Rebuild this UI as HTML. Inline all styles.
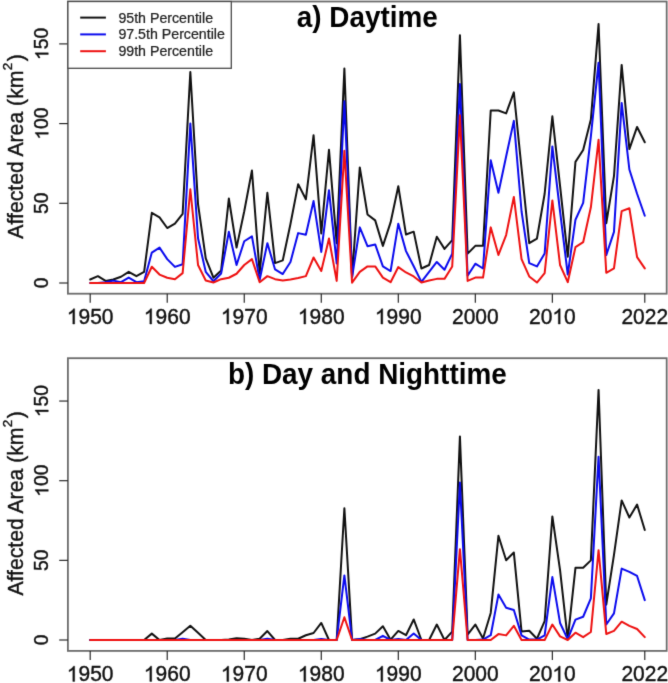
<!DOCTYPE html>
<html><head><meta charset="utf-8"><style>
html,body{margin:0;padding:0;background:#fff;}
svg{display:block;}
text{font-family:"Liberation Sans",sans-serif;fill:#111;stroke:#111;stroke-width:0.4px;}
.g1{fill:#111;stroke:#111;stroke-width:41.0px;}
.yl{font-size:21.2px;}
.sup{font-size:13.5px;}
.ti{font-size:27.9px;font-weight:bold;fill:#000;stroke:none;}
.lg{font-size:14.2px;fill:#222;stroke:#222;stroke-width:0.24px;}
polyline{fill:none;stroke-width:2.0;stroke-linejoin:round;stroke-linecap:round;}
</style></head><body>
<svg width="668" height="683" viewBox="0 0 668 683">
<defs><filter id="bl" x="0" y="0" width="668" height="683" filterUnits="userSpaceOnUse" color-interpolation-filters="sRGB"><feConvolveMatrix order="3" kernelMatrix="0.0113 0.0838 0.0113 0.0838 0.6193 0.0838 0.0113 0.0838 0.0113" edgeMode="none"/></filter></defs>
<rect width="668" height="683" fill="#fff"/>
<g filter="url(#bl)">
<polyline points="90.20,279.49 97.90,276.15 105.61,280.93 113.31,279.49 121.01,276.78 128.71,271.84 136.41,276.15 144.12,271.84 151.82,212.86 159.52,217.33 167.22,228.01 174.93,223.54 182.63,213.82 190.33,71.95 198.03,204.10 205.74,258.29 213.44,277.74 221.14,270.41 228.84,198.52 236.55,247.61 244.25,211.27 251.95,170.46 259.65,273.12 267.36,192.78 275.06,263.07 282.76,260.37 290.46,224.02 298.17,184.17 305.87,199.31 313.57,135.24 321.27,233.43 328.98,149.74 336.68,243.15 344.38,68.61 352.08,276.62 359.79,167.44 367.49,214.46 375.19,220.36 382.89,245.86 390.60,222.43 398.30,186.24 406.00,234.54 413.70,231.67 421.41,268.49 429.11,264.99 436.81,236.77 444.51,248.89 452.22,240.12 459.92,35.13 467.62,253.67 475.32,245.86 483.03,245.86 490.73,110.53 498.43,110.53 506.13,113.40 513.84,92.36 521.54,168.23 529.24,243.15 536.95,238.53 544.65,193.74 552.35,116.27 560.05,185.77 567.75,256.70 575.46,161.86 583.16,150.06 590.86,119.61 598.56,23.97 606.27,223.22 613.97,176.20 621.67,64.94 629.38,149.10 637.08,126.95 644.78,142.25" stroke="#111111"/>
<polyline points="90.20,283.00 97.90,283.00 105.61,282.20 113.31,280.61 121.01,282.20 128.71,277.58 136.41,282.20 144.12,281.25 151.82,252.55 159.52,247.61 167.22,259.09 174.93,266.90 182.63,264.19 190.33,123.60 198.03,238.21 205.74,271.84 213.44,281.25 221.14,273.44 228.84,231.83 236.55,264.99 244.25,241.24 251.95,236.30 259.65,279.97 267.36,243.15 275.06,269.45 282.76,274.07 290.46,261.96 298.17,233.11 305.87,234.70 313.57,201.07 321.27,251.92 328.98,190.23 336.68,263.39 344.38,101.28 352.08,277.26 359.79,227.37 367.49,246.18 375.19,244.43 382.89,266.42 390.60,271.05 398.30,223.70 406.00,251.12 413.70,266.26 421.41,281.88 429.11,271.84 436.81,261.96 444.51,269.77 452.22,253.67 459.92,84.07 467.62,275.83 475.32,263.71 483.03,268.49 490.73,160.26 498.43,192.78 506.13,156.44 513.84,120.89 521.54,211.27 529.24,263.07 536.95,266.42 544.65,253.51 552.35,146.39 560.05,211.27 567.75,274.55 575.46,219.72 583.16,202.82 590.86,136.35 598.56,62.71 606.27,255.10 613.97,231.83 621.67,102.88 629.38,169.51 637.08,193.74 644.78,215.73" stroke="#0a0aee"/>
<polyline points="90.20,283.00 97.90,283.00 105.61,283.00 113.31,283.00 121.01,283.00 128.71,283.00 136.41,283.00 144.12,283.00 151.82,266.74 159.52,274.55 167.22,277.74 174.93,279.33 182.63,273.12 190.33,189.27 198.03,264.99 205.74,280.45 213.44,282.52 221.14,279.17 228.84,277.74 236.55,273.75 244.25,264.99 251.95,259.09 259.65,282.20 267.36,276.15 275.06,279.17 282.76,280.45 290.46,279.49 298.17,278.06 305.87,276.15 313.57,257.50 321.27,271.05 328.98,238.53 336.68,280.93 344.38,150.70 352.08,282.68 359.79,271.84 367.49,266.42 375.19,266.42 382.89,277.58 390.60,282.20 398.30,267.06 406.00,272.48 413.70,276.46 421.41,282.52 429.11,280.45 436.81,278.86 444.51,278.86 452.22,266.42 459.92,115.31 467.62,280.93 475.32,277.58 483.03,277.58 490.73,227.37 498.43,254.95 506.13,235.02 513.84,196.92 521.54,259.09 529.24,276.46 536.95,282.52 544.65,273.12 552.35,200.43 560.05,264.99 567.75,282.20 575.46,247.13 583.16,242.19 590.86,207.28 598.56,139.86 606.27,272.80 613.97,268.34 621.67,211.11 629.38,208.24 637.08,257.18 644.78,268.34" stroke="#ee1111"/>
<rect x="67.9" y="1.5" width="598.8" height="292.2" fill="none" stroke="#6c6c6c" stroke-width="1.8"/>
<line x1="59.2" y1="283.00" x2="67.9" y2="283.00" stroke="#222" stroke-width="1.15"/>
<g transform="translate(48.30 283.00) rotate(-90)"><text class="t" x="-5.37" y="0" style="font-size:19.3px">0</text></g>
<line x1="59.2" y1="203.30" x2="67.9" y2="203.30" stroke="#222" stroke-width="1.15"/>
<g transform="translate(48.30 203.30) rotate(-90)"><text class="t" x="-10.73" y="0" style="font-size:19.3px">50</text></g>
<line x1="59.2" y1="123.60" x2="67.9" y2="123.60" stroke="#222" stroke-width="1.15"/>
<g transform="translate(48.30 123.60) rotate(-90)"><text class="t" x="-16.10" y="0" style="font-size:19.3px"> 00</text><path d="M763 0H583V1147Q518 1085 412 1023Q306 961 222 930V1104Q373 1175 486 1276Q599 1377 646 1472H763Z" transform="translate(-16.10 0) scale(0.009424 -0.008858)" class="g1"/></g>
<line x1="59.2" y1="43.90" x2="67.9" y2="43.90" stroke="#222" stroke-width="1.15"/>
<g transform="translate(48.30 43.90) rotate(-90)"><text class="t" x="-16.10" y="0" style="font-size:19.3px"> 50</text><path d="M763 0H583V1147Q518 1085 412 1023Q306 961 222 930V1104Q373 1175 486 1276Q599 1377 646 1472H763Z" transform="translate(-16.10 0) scale(0.009424 -0.008858)" class="g1"/></g>
<line x1="90.20" y1="293.7" x2="90.20" y2="302.7" stroke="#222" stroke-width="1.15"/>
<g transform="translate(90.20 324.00) scale(1 1.075)"><text class="t" x="-23.36" y="0" style="font-size:21.0px"> 950</text><path d="M763 0H583V1147Q518 1085 412 1023Q306 961 222 930V1104Q373 1175 486 1276Q599 1377 646 1472H763Z" transform="translate(-23.36 0) scale(0.010254 -0.009639)" class="g1"/></g>
<line x1="167.22" y1="293.7" x2="167.22" y2="302.7" stroke="#222" stroke-width="1.15"/>
<g transform="translate(167.22 324.00) scale(1 1.075)"><text class="t" x="-23.36" y="0" style="font-size:21.0px"> 960</text><path d="M763 0H583V1147Q518 1085 412 1023Q306 961 222 930V1104Q373 1175 486 1276Q599 1377 646 1472H763Z" transform="translate(-23.36 0) scale(0.010254 -0.009639)" class="g1"/></g>
<line x1="244.25" y1="293.7" x2="244.25" y2="302.7" stroke="#222" stroke-width="1.15"/>
<g transform="translate(244.25 324.00) scale(1 1.075)"><text class="t" x="-23.36" y="0" style="font-size:21.0px"> 970</text><path d="M763 0H583V1147Q518 1085 412 1023Q306 961 222 930V1104Q373 1175 486 1276Q599 1377 646 1472H763Z" transform="translate(-23.36 0) scale(0.010254 -0.009639)" class="g1"/></g>
<line x1="321.27" y1="293.7" x2="321.27" y2="302.7" stroke="#222" stroke-width="1.15"/>
<g transform="translate(321.27 324.00) scale(1 1.075)"><text class="t" x="-23.36" y="0" style="font-size:21.0px"> 980</text><path d="M763 0H583V1147Q518 1085 412 1023Q306 961 222 930V1104Q373 1175 486 1276Q599 1377 646 1472H763Z" transform="translate(-23.36 0) scale(0.010254 -0.009639)" class="g1"/></g>
<line x1="398.30" y1="293.7" x2="398.30" y2="302.7" stroke="#222" stroke-width="1.15"/>
<g transform="translate(398.30 324.00) scale(1 1.075)"><text class="t" x="-23.36" y="0" style="font-size:21.0px"> 990</text><path d="M763 0H583V1147Q518 1085 412 1023Q306 961 222 930V1104Q373 1175 486 1276Q599 1377 646 1472H763Z" transform="translate(-23.36 0) scale(0.010254 -0.009639)" class="g1"/></g>
<line x1="475.32" y1="293.7" x2="475.32" y2="302.7" stroke="#222" stroke-width="1.15"/>
<g transform="translate(475.32 324.00) scale(1 1.075)"><text class="t" x="-23.36" y="0" style="font-size:21.0px">2000</text></g>
<line x1="552.35" y1="293.7" x2="552.35" y2="302.7" stroke="#222" stroke-width="1.15"/>
<g transform="translate(552.35 324.00) scale(1 1.075)"><text class="t" x="-23.36" y="0" style="font-size:21.0px">20 0</text><path d="M763 0H583V1147Q518 1085 412 1023Q306 961 222 930V1104Q373 1175 486 1276Q599 1377 646 1472H763Z" transform="translate(0.00 0) scale(0.010254 -0.009639)" class="g1"/></g>
<line x1="644.78" y1="293.7" x2="644.78" y2="302.7" stroke="#222" stroke-width="1.15"/>
<g transform="translate(644.78 324.00) scale(1 1.075)"><text class="t" x="-23.36" y="0" style="font-size:21.0px">2022</text></g>
<text class="yl" transform="translate(22.6 146.40) rotate(-90)" text-anchor="middle">Affected Area (km<tspan class="sup" dx="0.3" dy="-11">2</tspan><tspan dx="1.6" dy="11">)</tspan></text>
<text class="ti" transform="translate(367.3 26.9) scale(1 1.08)" text-anchor="middle">a) Daytime</text>
<rect x="67.9" y="1.5" width="163.4" height="66.8" fill="#fff" stroke="#4a4a4a" stroke-width="1.3"/>
<line x1="80.2" y1="17.6" x2="105.9" y2="17.6" stroke="#111111" stroke-width="2.0"/>
<line x1="80.2" y1="34.4" x2="105.9" y2="34.4" stroke="#0a0aee" stroke-width="2.0"/>
<line x1="80.2" y1="51.2" x2="105.9" y2="51.2" stroke="#ee1111" stroke-width="2.0"/>
<text class="lg" x="118.4" y="22.6">95th Percentile</text>
<text class="lg" x="118.4" y="39.4">97.5th Percentile</text>
<text class="lg" x="118.4" y="56.2">99th Percentile</text>
<polyline points="90.20,640.00 97.90,640.00 105.61,640.00 113.31,640.00 121.01,640.00 128.71,640.00 136.41,640.00 144.12,640.00 151.82,633.63 159.52,640.00 167.22,638.41 174.93,638.41 182.63,632.19 190.33,625.82 198.03,632.83 205.74,640.00 213.44,640.00 221.14,640.00 228.84,639.52 236.55,638.25 244.25,638.73 251.95,640.00 259.65,638.73 267.36,631.08 275.06,640.00 282.76,640.00 290.46,638.73 298.17,638.73 305.87,635.22 313.57,632.99 321.27,622.95 328.98,640.00 336.68,640.00 344.38,508.26 352.08,640.00 359.79,639.20 367.49,636.65 375.19,633.63 382.89,626.30 390.60,639.68 398.30,630.92 406.00,635.22 413.70,619.45 421.41,640.00 429.11,640.00 436.81,624.55 444.51,640.00 452.22,631.56 459.92,436.41 467.62,634.58 475.32,624.55 483.03,638.57 490.73,612.92 498.43,535.82 506.13,560.19 513.84,552.54 521.54,631.56 529.24,630.76 536.95,638.73 544.65,621.20 552.35,516.38 560.05,570.23 567.75,639.20 575.46,567.84 583.16,567.84 590.86,560.35 598.56,389.90 606.27,604.64 613.97,554.93 621.67,500.45 629.38,517.50 637.08,504.60 644.78,529.92" stroke="#111111"/>
<polyline points="90.20,640.00 97.90,640.00 105.61,640.00 113.31,640.00 121.01,640.00 128.71,640.00 136.41,640.00 144.12,640.00 151.82,640.00 159.52,640.00 167.22,640.00 174.93,640.00 182.63,638.73 190.33,640.00 198.03,640.00 205.74,640.00 213.44,640.00 221.14,640.00 228.84,640.00 236.55,640.00 244.25,640.00 251.95,640.00 259.65,640.00 267.36,638.73 275.06,640.00 282.76,640.00 290.46,640.00 298.17,640.00 305.87,640.00 313.57,640.00 321.27,638.88 328.98,640.00 336.68,640.00 344.38,575.48 352.08,640.00 359.79,639.04 367.49,640.00 375.19,640.00 382.89,635.86 390.60,640.00 398.30,639.04 406.00,640.00 413.70,633.47 421.41,640.00 429.11,640.00 436.81,640.00 444.51,640.00 452.22,640.00 459.92,482.61 467.62,640.00 475.32,640.00 483.03,639.52 490.73,635.22 498.43,594.60 506.13,607.82 513.84,610.05 521.54,635.38 529.24,639.52 536.95,639.52 544.65,635.38 552.35,577.08 560.05,622.95 567.75,639.20 575.46,619.61 583.16,616.74 590.86,598.42 598.56,456.81 606.27,624.55 613.97,613.40 621.67,568.63 629.38,571.82 637.08,575.96 644.78,600.17" stroke="#0a0aee"/>
<polyline points="90.20,640.00 97.90,640.00 105.61,640.00 113.31,640.00 121.01,640.00 128.71,640.00 136.41,640.00 144.12,640.00 151.82,640.00 159.52,640.00 167.22,640.00 174.93,640.00 182.63,640.00 190.33,640.00 198.03,640.00 205.74,640.00 213.44,640.00 221.14,640.00 228.84,640.00 236.55,640.00 244.25,640.00 251.95,640.00 259.65,640.00 267.36,640.00 275.06,640.00 282.76,640.00 290.46,640.00 298.17,640.00 305.87,640.00 313.57,640.00 321.27,640.00 328.98,640.00 336.68,640.00 344.38,617.22 352.08,640.00 359.79,640.00 367.49,640.00 375.19,640.00 382.89,640.00 390.60,640.00 398.30,640.00 406.00,640.00 413.70,640.00 421.41,640.00 429.11,640.00 436.81,640.00 444.51,640.00 452.22,640.00 459.92,549.20 467.62,640.00 475.32,640.00 483.03,640.00 490.73,640.00 498.43,634.11 506.13,635.38 513.84,625.82 521.54,640.00 529.24,640.00 536.95,640.00 544.65,640.00 552.35,624.55 560.05,636.34 567.75,640.00 575.46,632.67 583.16,637.13 590.86,632.03 598.56,550.15 606.27,633.95 613.97,630.92 621.67,621.68 629.38,625.82 637.08,629.01 644.78,637.13" stroke="#ee1111"/>
<rect x="67.9" y="358.2" width="598.8" height="292.7" fill="none" stroke="#6c6c6c" stroke-width="1.8"/>
<line x1="59.2" y1="640.00" x2="67.9" y2="640.00" stroke="#222" stroke-width="1.15"/>
<g transform="translate(48.30 640.00) rotate(-90)"><text class="t" x="-5.37" y="0" style="font-size:19.3px">0</text></g>
<line x1="59.2" y1="560.35" x2="67.9" y2="560.35" stroke="#222" stroke-width="1.15"/>
<g transform="translate(48.30 560.35) rotate(-90)"><text class="t" x="-10.73" y="0" style="font-size:19.3px">50</text></g>
<line x1="59.2" y1="480.70" x2="67.9" y2="480.70" stroke="#222" stroke-width="1.15"/>
<g transform="translate(48.30 480.70) rotate(-90)"><text class="t" x="-16.10" y="0" style="font-size:19.3px"> 00</text><path d="M763 0H583V1147Q518 1085 412 1023Q306 961 222 930V1104Q373 1175 486 1276Q599 1377 646 1472H763Z" transform="translate(-16.10 0) scale(0.009424 -0.008858)" class="g1"/></g>
<line x1="59.2" y1="401.05" x2="67.9" y2="401.05" stroke="#222" stroke-width="1.15"/>
<g transform="translate(48.30 401.05) rotate(-90)"><text class="t" x="-16.10" y="0" style="font-size:19.3px"> 50</text><path d="M763 0H583V1147Q518 1085 412 1023Q306 961 222 930V1104Q373 1175 486 1276Q599 1377 646 1472H763Z" transform="translate(-16.10 0) scale(0.009424 -0.008858)" class="g1"/></g>
<line x1="90.20" y1="650.9" x2="90.20" y2="659.9" stroke="#222" stroke-width="1.15"/>
<g transform="translate(90.20 681.40) scale(1 1.075)"><text class="t" x="-23.36" y="0" style="font-size:21.0px"> 950</text><path d="M763 0H583V1147Q518 1085 412 1023Q306 961 222 930V1104Q373 1175 486 1276Q599 1377 646 1472H763Z" transform="translate(-23.36 0) scale(0.010254 -0.009639)" class="g1"/></g>
<line x1="167.22" y1="650.9" x2="167.22" y2="659.9" stroke="#222" stroke-width="1.15"/>
<g transform="translate(167.22 681.40) scale(1 1.075)"><text class="t" x="-23.36" y="0" style="font-size:21.0px"> 960</text><path d="M763 0H583V1147Q518 1085 412 1023Q306 961 222 930V1104Q373 1175 486 1276Q599 1377 646 1472H763Z" transform="translate(-23.36 0) scale(0.010254 -0.009639)" class="g1"/></g>
<line x1="244.25" y1="650.9" x2="244.25" y2="659.9" stroke="#222" stroke-width="1.15"/>
<g transform="translate(244.25 681.40) scale(1 1.075)"><text class="t" x="-23.36" y="0" style="font-size:21.0px"> 970</text><path d="M763 0H583V1147Q518 1085 412 1023Q306 961 222 930V1104Q373 1175 486 1276Q599 1377 646 1472H763Z" transform="translate(-23.36 0) scale(0.010254 -0.009639)" class="g1"/></g>
<line x1="321.27" y1="650.9" x2="321.27" y2="659.9" stroke="#222" stroke-width="1.15"/>
<g transform="translate(321.27 681.40) scale(1 1.075)"><text class="t" x="-23.36" y="0" style="font-size:21.0px"> 980</text><path d="M763 0H583V1147Q518 1085 412 1023Q306 961 222 930V1104Q373 1175 486 1276Q599 1377 646 1472H763Z" transform="translate(-23.36 0) scale(0.010254 -0.009639)" class="g1"/></g>
<line x1="398.30" y1="650.9" x2="398.30" y2="659.9" stroke="#222" stroke-width="1.15"/>
<g transform="translate(398.30 681.40) scale(1 1.075)"><text class="t" x="-23.36" y="0" style="font-size:21.0px"> 990</text><path d="M763 0H583V1147Q518 1085 412 1023Q306 961 222 930V1104Q373 1175 486 1276Q599 1377 646 1472H763Z" transform="translate(-23.36 0) scale(0.010254 -0.009639)" class="g1"/></g>
<line x1="475.32" y1="650.9" x2="475.32" y2="659.9" stroke="#222" stroke-width="1.15"/>
<g transform="translate(475.32 681.40) scale(1 1.075)"><text class="t" x="-23.36" y="0" style="font-size:21.0px">2000</text></g>
<line x1="552.35" y1="650.9" x2="552.35" y2="659.9" stroke="#222" stroke-width="1.15"/>
<g transform="translate(552.35 681.40) scale(1 1.075)"><text class="t" x="-23.36" y="0" style="font-size:21.0px">20 0</text><path d="M763 0H583V1147Q518 1085 412 1023Q306 961 222 930V1104Q373 1175 486 1276Q599 1377 646 1472H763Z" transform="translate(0.00 0) scale(0.010254 -0.009639)" class="g1"/></g>
<line x1="644.78" y1="650.9" x2="644.78" y2="659.9" stroke="#222" stroke-width="1.15"/>
<g transform="translate(644.78 681.40) scale(1 1.075)"><text class="t" x="-23.36" y="0" style="font-size:21.0px">2022</text></g>
<text class="yl" transform="translate(22.6 503.35) rotate(-90)" text-anchor="middle">Affected Area (km<tspan class="sup" dx="0.3" dy="-11">2</tspan><tspan dx="1.6" dy="11">)</tspan></text>
<text class="ti" transform="translate(367.3 384.0) scale(1 1.08)" text-anchor="middle">b) Day and Nighttime</text>
</g>
</svg>
</body></html>
